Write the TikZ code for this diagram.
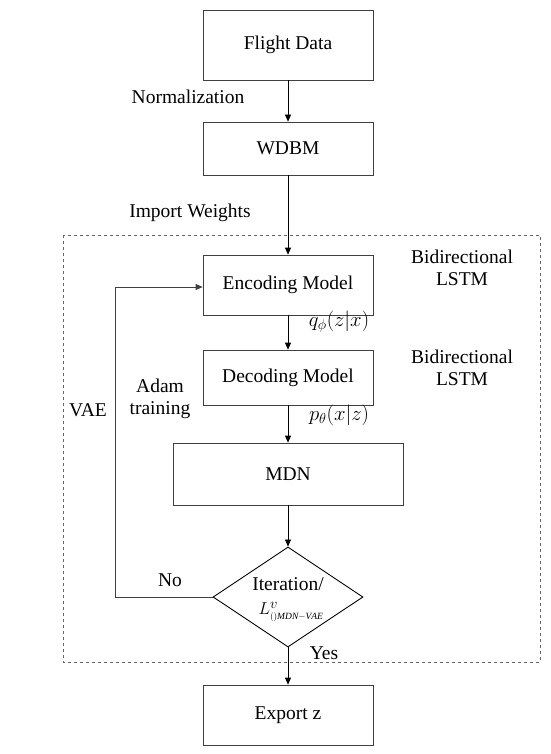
\documentclass[tikz,border=0pt]{standalone}
\usepackage{fontspec}
\setmainfont{Liberation Serif}
\usetikzlibrary{shapes.geometric,arrows.meta}
\begin{document}
\begin{tikzpicture}[x=1pt,y=-1pt,
  box/.style={draw=black!75,line width=0.7pt,minimum width=170pt,inner sep=0pt,font=\fontsize{19.5}{22}\selectfont},
  lbl/.style={font=\fontsize{19.5}{22}\selectfont,align=center,inner sep=0pt},
  arr/.style={-{Triangle[length=7pt,width=6pt]},line width=0.7pt},
  dec/.style={draw=black,line width=0.9pt,diamond,aspect=1.5,minimum width=150pt,minimum height=100pt,inner sep=0pt,align=center,font=\fontsize{19.5}{22}\selectfont}]
\useasboundingbox (0,0) rectangle (550,754);
\draw[dashed,draw=black!60,line width=0.6pt] (63,235) rectangle (540,662);
\node[box,minimum height=70pt] (fd) at (288,45) {Flight Data};
\node[box,minimum height=53pt] (wd) at (288,148.5) {WDBM};
\node[box,minimum height=60pt] (enc) at (288,285) {Encoding Model};
\node[box,minimum height=55pt] (decm) at (288,377.5) {Decoding Model};
\node[box,minimum width=230pt,minimum height=62pt] (mdn) at (288,474) {MDN};
\node[dec] (it) at (288,597) {};
\node[lbl] (itt) at (288,584) {Iteration/};
\node[lbl,font=\fontsize{19}{22}\selectfont] (itl) at (291,612) {$L^{v}_{\scriptscriptstyle()\mathit{MDN}\mathrm{-}\mathit{VAE}}$};
\node[box,minimum height=60pt] (ex) at (288,715) {Export z};
\node[lbl] (norm) at (188,97) {Normalization};
\node[lbl] (imp) at (190,213) {Import Weights};
\node[lbl,font=\fontsize{20}{22}\selectfont] (q) at (339,322) {$q_{\phi}(z|x)$};
\node[lbl,font=\fontsize{20}{22}\selectfont] (p) at (339,415) {$p_{\theta}(x|z)$};
\node[lbl] (yes) at (324,653) {Yes};
\node[lbl] (no) at (170,580) {No};
\node[lbl] (adam) at (160,399) {Adam\\training};
\node[lbl] (vae) at (88,410) {VAE};
\node[lbl] (b1) at (462,268) {Bidirectional\\LSTM};
\node[lbl] (b2) at (462,368) {Bidirectional\\LSTM};
\coordinate (c1) at (115,597);
\coordinate (c2) at (115,287);
\draw[arr] (fd) -- (wd);
\draw[arr] (wd) -- (enc);
\draw[arr] (enc) -- (decm);
\draw[arr] (decm) -- (mdn);
\draw[arr] (mdn) -- (it);
\draw[arr] (it) -- (ex);
\draw[arr,draw=black!75] (it.west) -- (c1) -- (c2) -- (enc.west |- c2);
\end{tikzpicture}
\end{document}
